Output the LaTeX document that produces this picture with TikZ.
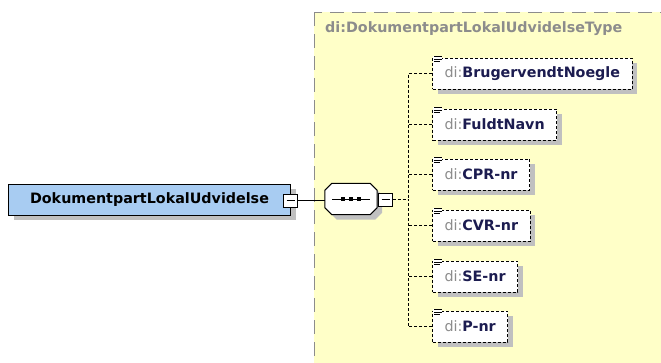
\documentclass[tikz,border=0pt]{standalone}
\usepackage{fontspec}
\setmainfont{DejaVu Sans}
\usetikzlibrary{positioning,shadows}

\definecolor{typeyellow}{RGB}{255,255,200}
\definecolor{elemblue}{RGB}{168,204,242}
\definecolor{prefixgray}{RGB}{140,140,140}
\definecolor{namenavy}{RGB}{28,28,80}
\definecolor{shadowgray}{RGB}{192,192,192}

\begin{document}
\begin{tikzpicture}[x=1pt, y=-1pt, font=\fontsize{14.3}{17}\selectfont\bfseries]
% one unit is one pixel of the reference, y runs downwards

\tikzstyle{shade}	= [drop shadow={shadow xshift=5pt, shadow yshift=-5pt, fill=shadowgray, opacity=1}] % grey drop shadow
\tikzstyle{elem}	= [draw, line width=1pt, rectangle, fill=elemblue, minimum width=282, minimum height=31, shade] % global element
\tikzstyle{child}	= [draw, line width=1pt, dash pattern=on 3pt off 2pt, rectangle, fill=white, minimum height=31, inner xsep=12pt, anchor=west, text=namenavy, shade] % optional child element
\tikzstyle{minus}	= [draw, fill=white, minimum width=14, minimum height=13, inner sep=0pt,
	path picture={\draw ([xshift=3pt]path picture bounding box.west)--([xshift=-3pt]path picture bounding box.east);}] % collapse box
\tikzstyle{seq}		= [rectangle, minimum width=52, minimum height=31, inner sep=0pt] % sequence compositor, octagon drawn round it
\tikzstyle{branch}	= [line width=1pt, dash pattern=on 3pt off 2pt] % dashed connector

\useasboundingbox (0,0) rectangle (661,362);

% complex type area with its name
\draw[thick, color=prefixgray, dash pattern=on 14pt off 8pt, fill=typeyellow] (314,12) rectangle (700,400);
\node(typename)[anchor=west, text=prefixgray, inner sep=0pt] at (325,29){di:DokumentpartLokalUdvidelseType};

% element with its collapse box
\node(doc)[elem, anchor=west] at (8,199.5){DokumentpartLokalUdvidelse};
\node(docminus)[minus] at (290.5,200.5){};

% sequence compositor: shadow, then octagon
\node(seq)[seq] at (351,199){};
\fill[shadowgray]([shift={(12,5)}]seq.north west)--([shift={(-2,5)}]seq.north east)--([shift={(5,12)}]seq.north east)
	--([shift={(5,-2)}]seq.south east)--([shift={(-2,5)}]seq.south east)--([shift={(12,5)}]seq.south west)
	--([shift={(5,-2)}]seq.south west)--([shift={(5,12)}]seq.north west)--cycle;
\draw[line width=1pt, fill=white]([shift={(7,0)}]seq.north west)--([shift={(-7,0)}]seq.north east)--([shift={(0,7)}]seq.north east)
	--([shift={(0,-7)}]seq.south east)--([shift={(-7,0)}]seq.south east)--([shift={(7,0)}]seq.south west)
	--([shift={(0,-7)}]seq.south west)--([shift={(0,7)}]seq.north west)--cycle;
\draw[line width=1pt](seq.center)++(-19,0)--++(38,0);
\foreach \dx in {-8,0,8}
	\fill(seq.center)++(\dx-2,-2) rectangle ++(4,4);
\node(seqminus)[minus] at (385.5,199.5){};
\coordinate(fork) at (408,199.5);

% child elements
\node(noegle)[child] at (432,73.5){\textcolor{prefixgray}{\mdseries di:}BrugervendtNoegle};
\node(navn)[child] at (432,124.5){\textcolor{prefixgray}{\mdseries di:}FuldtNavn};
\node(cpr)[child] at (432,174.5){\textcolor{prefixgray}{\mdseries di:}CPR-nr};
\node(cvr)[child] at (432,225.5){\textcolor{prefixgray}{\mdseries di:}CVR-nr};
\node(se)[child] at (432,276.5){\textcolor{prefixgray}{\mdseries di:}SE-nr};
\node(pnr)[child] at (432,326.5){\textcolor{prefixgray}{\mdseries di:}P-nr};

% small content icons
\foreach \n in {noegle,navn,cpr,cvr,se,pnr}{
	\fill[white](\n.north west)++(1,-2) rectangle ++(9,8);
	\draw[line width=0.8pt](\n.north west)++(2,-1)--++(8,0);
	\draw[line width=0.8pt](\n.north west)++(2,1.5)--++(8,0);
	\draw[line width=0.8pt](\n.north west)++(2,4)--++(6,0);
}

% connectors
\draw[line width=1pt](docminus.east)--(docminus.east -| seq.west);
\draw[branch](seqminus.east)--(fork);
\draw[branch](noegle.west)-|(fork);
\draw[branch](pnr.west)-|(fork);
\foreach \n in {navn,cpr,cvr,se}
	\draw[branch](\n.west)--++(-24,0);
\end{tikzpicture}
\end{document}
